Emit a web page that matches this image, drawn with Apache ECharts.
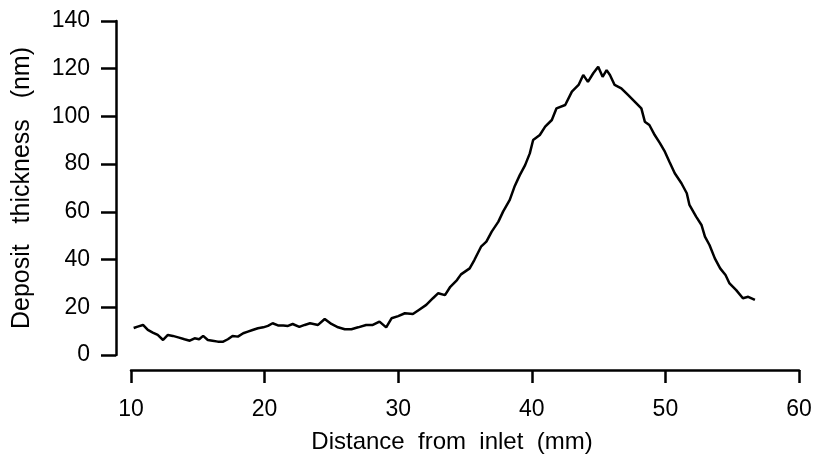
<!DOCTYPE html>
<html><head><meta charset="utf-8">
<script src="https://cdn.jsdelivr.net/npm/echarts@6/dist/echarts.min.js"></script>
<style>html,body{margin:0;padding:0;background:#fff}#c{width:816px;height:464px}</style>
</head><body><div id="c"></div>
<script>
const distanceMm = [10.2,10.26,10.5,10.9,11.26,11.63,12.0,12.4,12.76,13.13,13.6,14.0,14.4,14.76,15.1,15.4,15.75,16.1,16.5,16.9,17.25,17.6,18.0,18.4,18.75,19.1,19.5,19.9,20.25,20.6,21.0,21.4,21.75,22.1,22.6,23.0,23.4,24.0,24.5,25.0,25.5,26.0,26.5,27.0,27.6,28.1,28.6,29.1,29.5,30.0,30.5,31.1,31.6,32.1,32.6,33.0,33.5,33.9,34.4,34.7,35.35,35.7,36.2,36.6,37.0,37.5,37.85,38.35,38.7,39.1,39.5,39.85,40.1,40.6,41.0,41.5,41.85,42.5,43.0,43.5,43.85,44.2,44.6,44.97,45.3,45.6,45.85,46.2,46.7,47.2,47.7,48.2,48.46,48.8,49.2,49.6,49.96,50.3,50.7,51.2,51.6,51.8,52.3,52.7,52.96,53.3,53.7,54.1,54.5,54.8,55.3,55.8,56.2,56.7];
const thicknessNm = [11.3,10.5,11.9,12.6,10.5,9.4,8.4,6.3,8.4,8.0,7.3,6.6,6.0,7.0,6.6,8.0,6.3,6.0,5.6,5.6,6.6,8.0,7.7,9.1,9.8,10.5,11.2,11.6,12.2,13.3,12.4,12.4,12.2,13.0,11.8,12.6,13.3,12.6,15.1,13.0,11.6,10.8,10.8,11.6,12.6,12.6,14.0,11.6,15.4,16.3,17.5,17.2,19.1,21.0,23.8,25.9,25.1,28.6,31.4,33.8,36.3,39.8,45.4,47.5,51.7,55.9,60.1,65.0,70.5,75.4,79.6,84.5,90.1,92.2,95.7,98.5,103.4,104.8,110.4,113.2,117.4,114.5,118.1,120.8,116.6,119.4,117.4,113.2,111.8,109.0,106.2,103.4,97.8,96.4,92.2,88.7,85.2,81.0,76.2,72.0,67.8,62.9,58.0,54.5,49.6,46.1,40.5,36.3,33.5,30.0,27.2,23.8,24.4,23.1];
const xTickMin = 10, xTickMax = 60, xTickStep = 10;
const yTickMin = 0, yTickMax = 140, yTickStep = 20;
const xTitle = 'Distance  from  inlet  (mm)';
const yTitle = 'Deposit   thickness   (nm)';

const chart = echarts.init(document.getElementById('c'), null, {renderer:'canvas'});
const font = '"Liberation Sans", Arial, Helvetica, sans-serif';
chart.setOption({
  animation:false,
  backgroundColor:'#fff',
  grid:{left:131, right:17, top:21, bottom:109, containLabel:false},
  xAxis:{type:'value', min:xTickMin, max:xTickMax, interval:xTickStep, offset:15,
    name:xTitle, nameLocation:'middle', nameGap:60,
    nameTextStyle:{color:'#000', fontSize:24, fontFamily:font, padding:[0,26,0,0]},
    axisLine:{show:true, onZero:false, lineStyle:{color:'#000', width:2.5}},
    axisTick:{show:true, length:13, lineStyle:{color:'#000', width:2.5}},
    axisLabel:{color:'#000', fontSize:23, fontFamily:font, margin:28},
    splitLine:{show:false}},
  yAxis:{type:'value', min:yTickMin, max:yTickMax, interval:yTickStep, offset:15,
    name:yTitle, nameLocation:'middle', nameGap:81,
    nameTextStyle:{color:'#000', fontSize:25, fontFamily:font},
    axisLine:{show:true, lineStyle:{color:'#000', width:2.5}},
    axisTick:{show:true, length:15, lineStyle:{color:'#000', width:2.5}},
    axisLabel:{color:'#000', fontSize:23, fontFamily:font, margin:26},
    splitLine:{show:false}},
  series:[{type:'line', data:distanceMm.map((x,i)=>[x, thicknessNm[i]]),
    showSymbol:false, symbol:'none', smooth:false,
    lineStyle:{color:'#000', width:2.5}}]
});
</script></body></html>
